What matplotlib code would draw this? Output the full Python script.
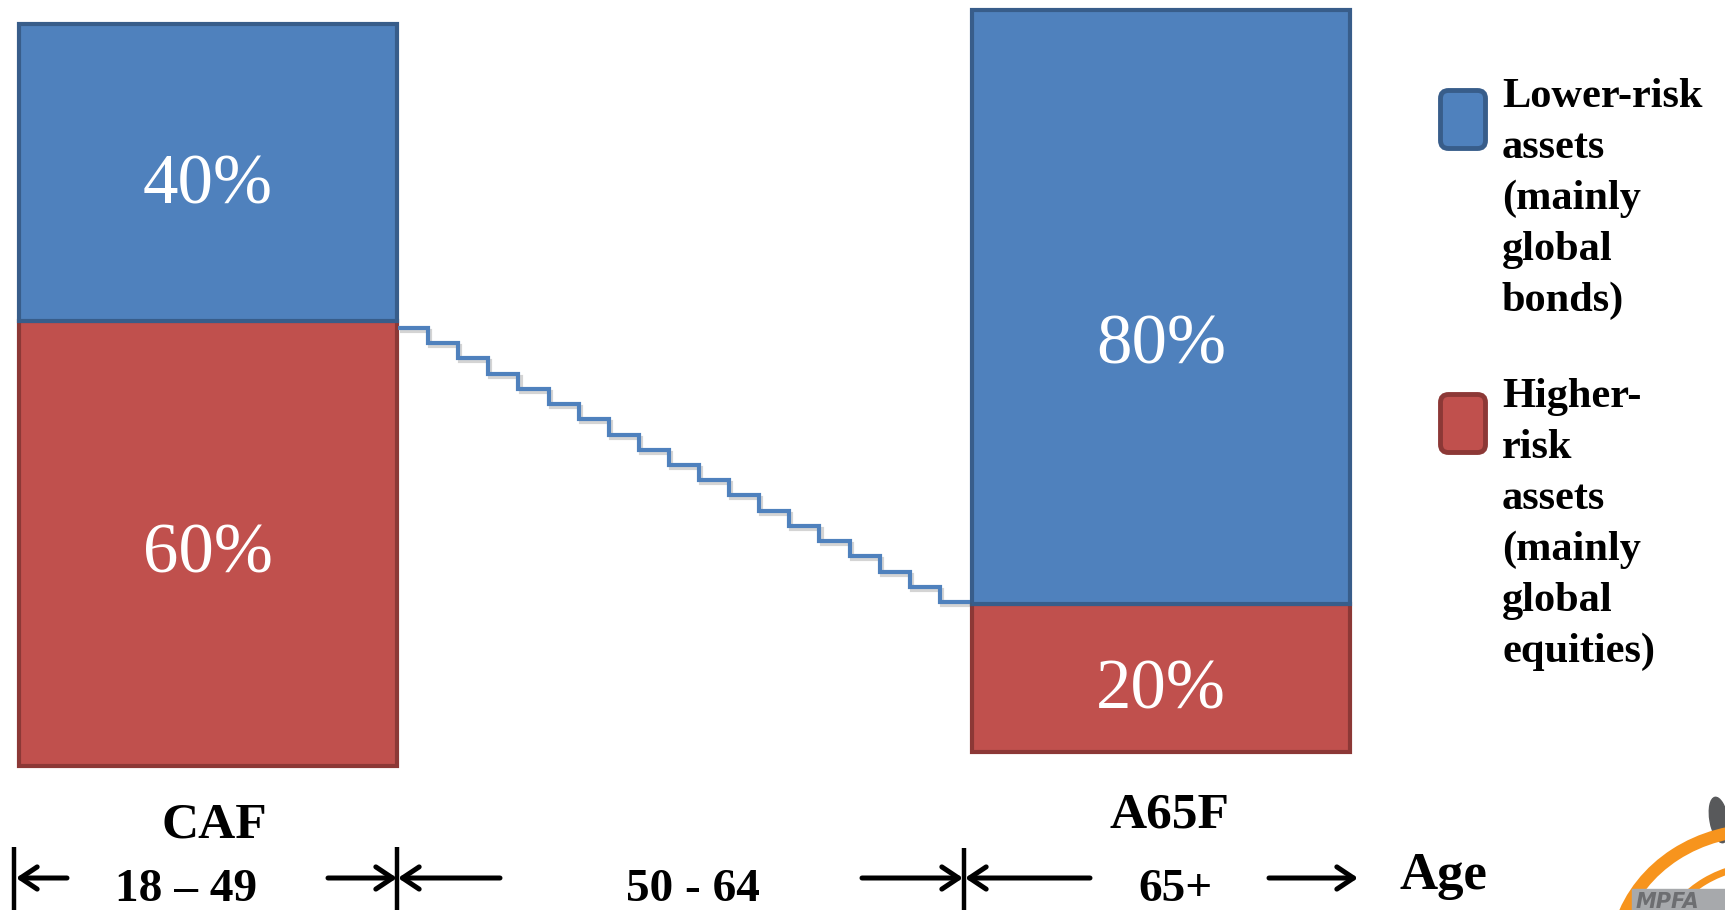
import numpy as np
import matplotlib
matplotlib.use('Agg')
import matplotlib.pyplot as plt
from matplotlib.patches import FancyBboxPatch, Arc, Rectangle, Ellipse
import matplotlib.patheffects as pe

# ---------------- data ----------------
funds = ['CAF', 'A65F']
age_bands = ['18 – 49', '50 - 64', '65+']
lower_risk = [40, 80]      # % lower-risk assets
higher_risk = [60, 20]     # % higher-risk assets
glide_higher_risk = [60.0, 57.8, 55.6, 53.3, 51.1, 48.9, 46.7, 44.4, 42.2, 40.0,
                     37.8, 35.6, 33.3, 31.1, 28.9, 26.7, 24.4, 22.2, 20.0]
legend_labels = [['Lower-risk', 'assets', '(mainly', 'global', 'bonds)'],
                 ['Higher-', 'risk', 'assets', '(mainly', 'global', 'equities)']]
axis_word = 'Age'

# ---------------- style ----------------
BLUE, BLUE_EDGE = '#4F81BD', '#385D8A'
RED, RED_EDGE = '#C0504D', '#8C3836'
plt.rcParams['font.family'] = ['Liberation Serif', 'DejaVu Serif']

W, H = 1725, 910
fig = plt.figure(figsize=(W / 100, H / 100), dpi=100)

# main axes: bar centres at 0 and 1 (953 px apart), 7.42 px per percentage point
ax = fig.add_axes([0, 0, 1, 1])
ax.set_xlim(-208 / 953, (W - 208) / 953)
ax.set_ylim(-(H - 766) / 7.42, 766 / 7.42)
ax.axis('off')

xpos = np.arange(len(funds))
base = np.array([0.0, 1.9])
bw = 0.397
ax.bar(xpos, higher_risk, width=bw, bottom=base, color=RED,
       edgecolor=RED_EDGE, linewidth=3, zorder=2)
ax.bar(xpos, lower_risk, width=bw, bottom=base + np.array(higher_risk),
       color=BLUE, edgecolor=BLUE_EDGE, linewidth=3, zorder=3)

label_drop = [[4.2, 3.9], [7.7, 4.1]]  # baseline shift below segment centre
for i in range(len(funds)):
    hc = base[i] + higher_risk[i] / 2
    lc = base[i] + higher_risk[i] + lower_risk[i] / 2
    ax.text(xpos[i], lc - label_drop[i][0], f'{lower_risk[i]}%', ha='center',
            va='baseline', color='white', fontsize=51, zorder=5)
    ax.text(xpos[i], hc - label_drop[i][1], f'{higher_risk[i]}%', ha='center',
            va='baseline', color='white', fontsize=51, zorder=5)

# glide path (staircase) on its own y scale
ax2 = ax.twinx()
ax2.set_ylim(20 - (H - 602) / 6.85, 60 + 328 / 6.85)
ax2.axis('off')
edges = np.linspace((398 - 208) / 953, (970 - 208) / 953, len(glide_higher_risk) + 1)
ax2.stairs(glide_higher_risk, edges, baseline=None, color=BLUE, lw=3,
           path_effects=[pe.SimpleLineShadow(offset=(1.5, -2), alpha=0.25,
                                             shadow_color='#555555'), pe.Normal()])

# overlay in pixel coordinates for annotations
ov = fig.add_axes([0, 0, 1, 1])
ov.set_xlim(0, W)
ov.set_ylim(H, 0)
ov.axis('off')

# legend
leg_cols = [(BLUE, BLUE_EDGE), (RED, RED_EDGE)]
leg_top = [88, 392]
leg_base = [107, 407]
for k in range(2):
    fc, ec = leg_cols[k]
    ov.add_patch(FancyBboxPatch((1440.5, leg_top[k] + 2.5), 45, 58,
                                boxstyle='round,pad=0,rounding_size=8',
                                fc=fc, ec=ec, lw=3.5))
    for j, line in enumerate(legend_labels[k]):
        ov.text(1502, leg_base[k] + j * 51, line, fontsize=30.5, fontweight='bold',
                va='baseline', ha='left')

# fund names
ov.text(214, 837, funds[0], ha='center', va='baseline', fontsize=37, fontweight='bold')
ov.text(1170, 828, funds[1], ha='center', va='baseline', fontsize=37, fontweight='bold')

# age bands
for cx, lab in zip([186, 693, 1176], age_bands):
    ov.text(cx, 901, lab, ha='center', va='baseline', fontsize=34, fontweight='bold')
ov.text(1399, 889, axis_word, ha='left', va='baseline', fontsize=38, fontweight='bold')

# separators and arrows
ov.vlines([14, 397, 964], [847, 847, 848], [H, H, H], color='black', lw=3.2)
arrow_pairs = [((67, 878), (16, 878)), ((328, 878), (397, 878)),
               ((500, 878), (398, 878)), ((862, 878), (963, 878)),
               ((1090, 878), (965, 878)), ((1269, 878), (1358, 878))]
for tail, tip in arrow_pairs:
    ov.annotate('', xy=tip, xytext=tail,
                arrowprops=dict(arrowstyle='->,head_length=0.6,head_width=0.4',
                                lw=3.6, color='black', shrinkA=0, shrinkB=0,
                                mutation_scale=20))

# rough logo (bottom-right corner)
ov.add_patch(Ellipse((1719, 820), 18, 46, angle=-10, color='#58595B'))
ov.add_patch(Arc((1760, 960), 290, 260, theta1=195, theta2=272, color='#F7941D', lw=9))
ov.add_patch(Arc((1765, 965), 220, 200, theta1=200, theta2=272, color='#F7941D', lw=5))
ov.add_patch(Rectangle((1632, 889), 95, 21, color='#A7A9AC'))
ov.text(1636, 908, 'MPFA', fontsize=15, fontweight='bold', style='italic',
        color='#6D6E71', family=['DejaVu Sans'], va='baseline')

fig.savefig('out.png', dpi=100)
